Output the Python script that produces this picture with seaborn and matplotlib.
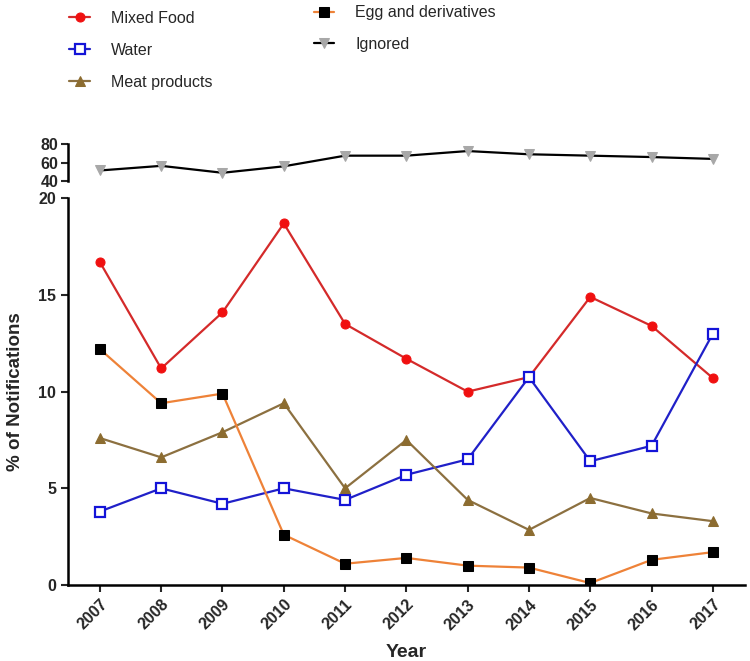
import numpy as np
import pandas as pd
import matplotlib
matplotlib.use('Agg')
import matplotlib.pyplot as plt
import seaborn as sns

# Data
years = [2007, 2008, 2009, 2010, 2011, 2012, 2013, 2014, 2015, 2016, 2017]
mixed_food = [16.7, 11.2, 14.1, 18.7, 13.5, 11.7, 10.0, 10.75, 14.9, 13.4, 10.7]
water = [3.8, 5.0, 4.2, 5.0, 4.4, 5.7, 6.5, 10.75, 6.4, 7.2, 13.0]
meat_products = [7.6, 6.6, 7.9, 9.4, 5.0, 7.5, 4.4, 2.85, 4.5, 3.7, 3.3]
egg = [12.2, 9.4, 9.9, 2.6, 1.1, 1.4, 1.0, 0.9, 0.1, 1.3, 1.7]
ignored = [51.5, 56.5, 49, 56, 67.5, 67.5, 72.5, 69, 67.5, 66, 64]

sns.set_style('white')
plt.rcParams['font.family'] = ['Liberation Sans', 'DejaVu Sans']

fig = plt.figure(figsize=(7.5, 6.61), dpi=100)
ax_top = fig.add_axes([0.0907, 0.726, 0.9023, 0.056])
ax = fig.add_axes([0.0907, 0.115, 0.9023, 0.585])

# bottom panel series
sns.lineplot(x=years, y=mixed_food, ax=ax, color='#d42a2a', lw=1.6,
             marker='o', markersize=6.5, markerfacecolor='#f01010',
             markeredgecolor='#f01010', label='Mixed Food')
sns.lineplot(x=years, y=water, ax=ax, color='#2020c8', lw=1.6,
             marker='s', markersize=6.5, markerfacecolor='white',
             markeredgecolor='#1414d8', markeredgewidth=1.6, label='Water')
sns.lineplot(x=years, y=meat_products, ax=ax, color='#8c7040', lw=1.6,
             marker='^', markersize=6.5, markerfacecolor='#8c6c30',
             markeredgecolor='#8c6c30', label='Meat products')
sns.lineplot(x=years, y=egg, ax=ax, color='#ee8238', lw=1.6,
             marker='s', markersize=6.5, markerfacecolor='black',
             markeredgecolor='black', label='Egg and derivatives')

# top panel
sns.lineplot(x=years, y=ignored, ax=ax_top, color='black', lw=1.6,
             marker='v', markersize=7.5, markerfacecolor='#a8a8a8',
             markeredgecolor='#a8a8a8', label='Ignored')

xlim = (2006.48, 2017.52)
ax.set_xlim(*xlim)
ax_top.set_xlim(*xlim)
ax.set_ylim(0, 20)
ax_top.set_ylim(40, 80)

ax.set_yticks([0, 5, 10, 15, 20])
ax.set_xticks(years)
ax.set_xticklabels([str(y) for y in years], rotation=45, ha='right',
                   rotation_mode='anchor', fontweight='bold', fontsize=11)
ax.tick_params(axis='both', direction='out', length=5, width=1.5,
               bottom=True, left=True, labelsize=11.5)
for lab in ax.get_yticklabels():
    lab.set_fontweight('bold')

ax_top.set_yticks([40, 60, 80])
ax_top.set_xticks([])
ax_top.tick_params(axis='y', direction='out', length=5, width=1.5,
                   left=True, labelsize=11.5, pad=2)
for lab in ax_top.get_yticklabels():
    lab.set_fontweight('bold')

for s in ['top', 'right']:
    ax.spines[s].set_visible(False)
for s in ['top', 'right', 'bottom']:
    ax_top.spines[s].set_visible(False)
for a in (ax, ax_top):
    a.spines['left'].set_linewidth(1.8)
    a.spines['left'].set_color('black')
ax.spines['bottom'].set_linewidth(1.8)
ax.spines['bottom'].set_color('black')

ax.set_xlabel('Year', fontsize=14, fontweight='bold', labelpad=8)
ax.set_ylabel('% of Notifications', fontsize=13.5, fontweight='bold', labelpad=10)

# legends in two columns
h, l = ax.get_legend_handles_labels()
ht, lt = ax_top.get_legend_handles_labels()
ax.get_legend().remove()
ax_top.get_legend().remove()
fig.legend(h[:3], l[:3], loc='upper left', bbox_to_anchor=(0.073, 1.005),
           frameon=False, fontsize=11.5, handlelength=1.3, labelspacing=1.05,
           handletextpad=1.3)
fig.legend([h[3]] + ht, [l[3]] + lt, loc='upper left',
           bbox_to_anchor=(0.399, 1.014), frameon=False, fontsize=11.5,
           handlelength=1.3, labelspacing=1.05, handletextpad=1.3)

fig.savefig('out.png', dpi=100)
